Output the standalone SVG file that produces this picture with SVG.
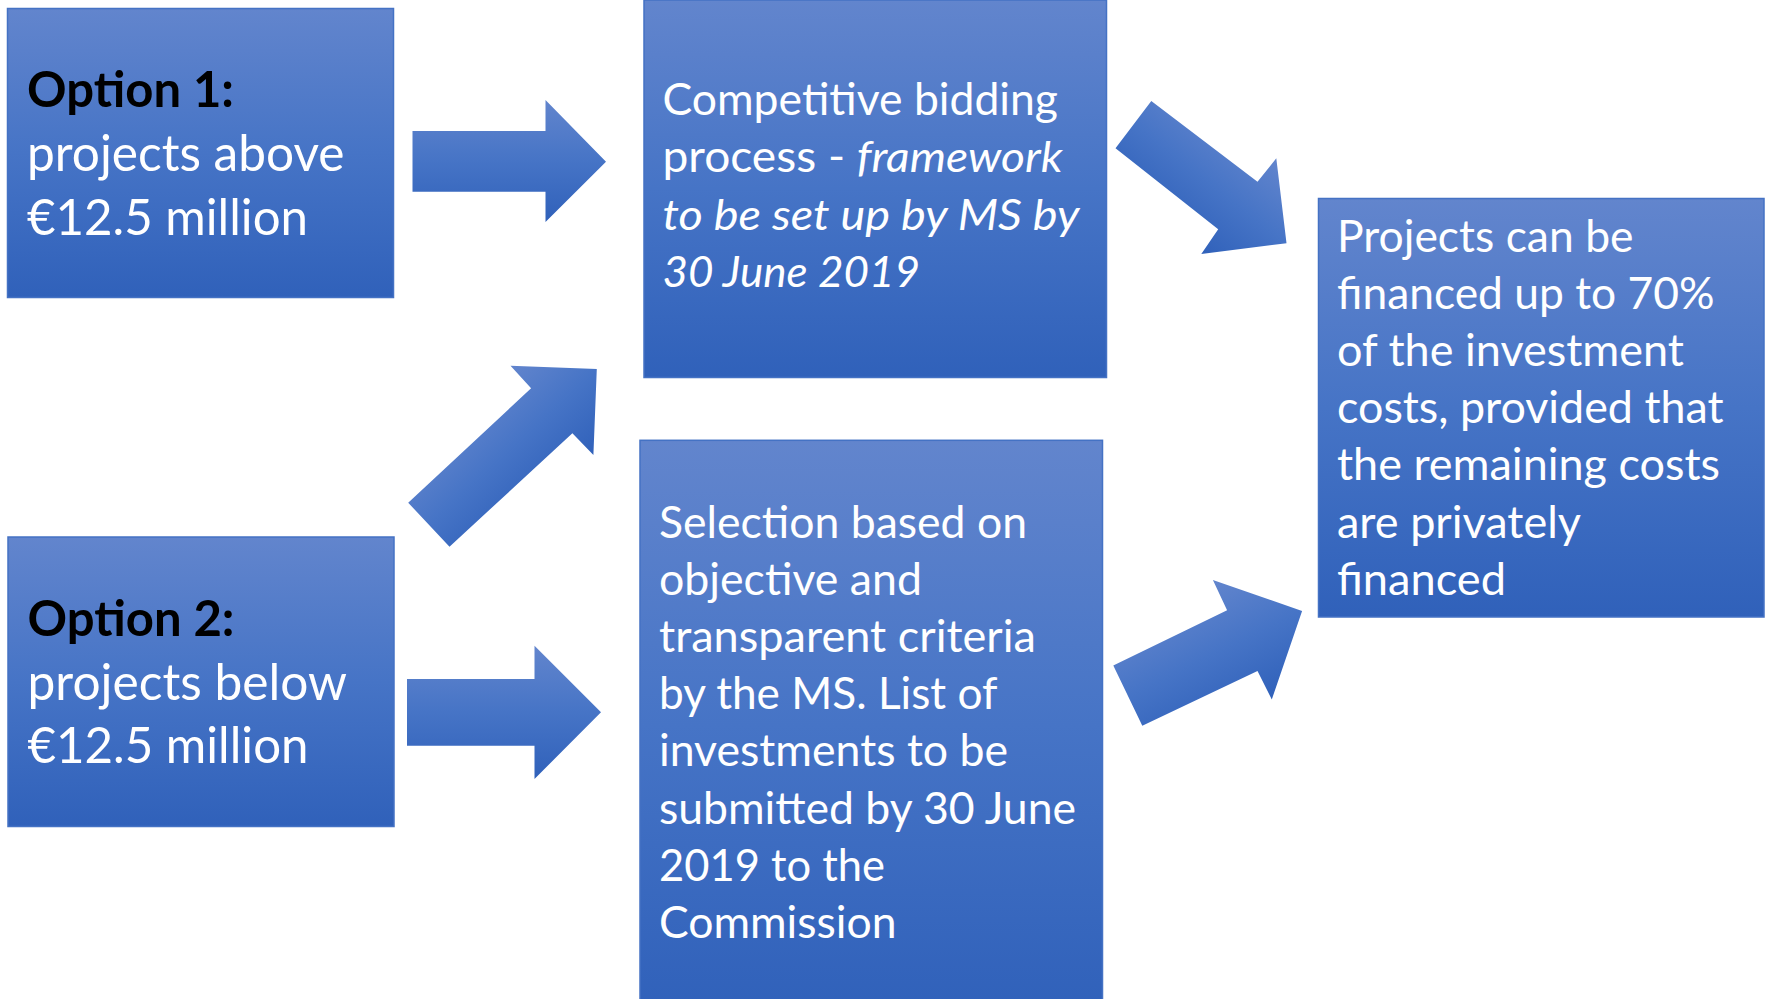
<svg xmlns="http://www.w3.org/2000/svg" xmlns:xlink="http://www.w3.org/1999/xlink" width="1766" height="999" viewBox="0 0 1766 999">
  <defs>
    <linearGradient id="boxGrad" x1="0" y1="0" x2="0" y2="1">
      <stop offset="0" stop-color="#6285CD"/>
      <stop offset="0.5" stop-color="#4674C6"/>
      <stop offset="1" stop-color="#3061BA"/>
    </linearGradient>
    <linearGradient id="g1" href="#boxGrad" gradientUnits="userSpaceOnUse" x1="0" y1="100" x2="0" y2="222"/>
    <linearGradient id="g2" href="#boxGrad" gradientUnits="userSpaceOnUse" x1="0" y1="646" x2="0" y2="779"/>
    <linearGradient id="g3" href="#boxGrad" gradientUnits="userSpaceOnUse" x1="510.5" y1="365.7" x2="593.4" y2="455"/>
    <linearGradient id="g4" href="#boxGrad" gradientUnits="userSpaceOnUse" x1="1276.3" y1="158.3" x2="1201.3" y2="254"/>
    <linearGradient id="g5" href="#boxGrad" gradientUnits="userSpaceOnUse" x1="1212.9" y1="579.9" x2="1271.8" y2="699.5"/>
  </defs>
  <style>
    .box { fill: url(#boxGrad); stroke: #4472C4; stroke-width: 1.5; }
    .t { font-family: Lato, "Open Sans", "Liberation Sans", sans-serif; fill: #FFFFFF; }
    .big { font-size: 49.5px; }
    .mid { font-size: 43.5px; }
    .opt { font-weight: bold; fill: #000000; }
    .it { font-style: italic; }
  </style>
  <rect width="1766" height="999" fill="#FFFFFF"/>

  <g id="connectors">
    <polygon id="arrow-opt1-bidding" fill="url(#g1)" points="412.5,131 545.5,131 545.5,100 606,161.7 545.5,222 545.5,191.7 412.5,191.7"/>
    <polygon id="arrow-opt2-selection" fill="url(#g2)" points="407,679 534.5,679 534.5,645.7 601,712.3 534.5,779 534.5,745.7 407,745.7"/>
    <polygon id="arrow-opt2-bidding" fill="url(#g3)" points="408.2,502.7 531.1,388.3 510.5,365.7 596.8,369 593.4,455 572.4,433.3 449.5,546.7"/>
    <polygon id="arrow-bidding-financing" fill="url(#g4)" points="1151.3,101 1257.5,181.7 1276.3,158.3 1286.5,243.3 1201.3,254 1218.2,229.3 1115.5,148.3"/>
    <polygon id="arrow-selection-financing" fill="url(#g5)" points="1113.3,665.6 1227.1,610.2 1212.9,579.9 1302.1,610.9 1271.8,699.5 1257.5,671.1 1142.3,725.8"/>
  </g>

  <g id="node-option1">
    <rect class="box" x="7.5" y="8.5" width="386" height="289"/>
    <text class="t big opt" x="27" y="106.5" textLength="207" lengthAdjust="spacingAndGlyphs">Option 1:</text>
    <text class="t big" x="27" y="171" textLength="317.5" lengthAdjust="spacingAndGlyphs">projects above</text>
    <text class="t big" x="27" y="235" textLength="281" lengthAdjust="spacingAndGlyphs">€12.5 million</text>
  </g>

  <g id="node-option2">
    <rect class="box" x="8" y="537" width="386" height="289.5"/>
    <text class="t big opt" x="27.5" y="636" textLength="207" lengthAdjust="spacingAndGlyphs">Option 2:</text>
    <text class="t big" x="27.5" y="700" textLength="319.5" lengthAdjust="spacingAndGlyphs">projects below</text>
    <text class="t big" x="27.5" y="763.3" textLength="281" lengthAdjust="spacingAndGlyphs">€12.5 million</text>
  </g>

  <g id="node-bidding">
    <rect class="box" x="644" y="0" width="462.5" height="377.5"/>
    <text class="t mid" x="662.5" y="115" textLength="395.5" lengthAdjust="spacingAndGlyphs">Competitive bidding</text>
    <text class="t mid" x="662.5" y="172" textLength="400" lengthAdjust="spacingAndGlyphs">process - <tspan class="it">framework</tspan></text>
    <text class="t mid it" x="662.5" y="229.5" textLength="417" lengthAdjust="spacingAndGlyphs">to be set up by MS by</text>
    <text class="t mid it" x="662.5" y="287" textLength="257.5" lengthAdjust="spacingAndGlyphs">30 June 2019</text>
  </g>

  <g id="node-selection">
    <rect class="box" x="640" y="440.3" width="462.5" height="570"/>
    <text class="t mid" x="659" y="537.5" textLength="368" lengthAdjust="spacingAndGlyphs">Selection based on</text>
    <text class="t mid" x="659" y="594.7" textLength="263" lengthAdjust="spacingAndGlyphs">objective and</text>
    <text class="t mid" x="659" y="651.9" textLength="377" lengthAdjust="spacingAndGlyphs">transparent criteria</text>
    <text class="t mid" x="659" y="709.1" textLength="338.5" lengthAdjust="spacingAndGlyphs">by the MS. List of</text>
    <text class="t mid" x="659" y="766.3" textLength="349" lengthAdjust="spacingAndGlyphs">investments to be</text>
    <text class="t mid" x="659" y="823.5" textLength="417" lengthAdjust="spacingAndGlyphs">submitted by 30 June</text>
    <text class="t mid" x="659" y="880.7" textLength="226" lengthAdjust="spacingAndGlyphs">2019 to the</text>
    <text class="t mid" x="659" y="937.9" textLength="237.5" lengthAdjust="spacingAndGlyphs">Commission</text>
  </g>

  <g id="node-financing">
    <rect class="box" x="1318.5" y="198.5" width="445.5" height="418.5"/>
    <text class="t mid" x="1337" y="251.8" textLength="296.5" lengthAdjust="spacingAndGlyphs">Projects can be</text>
    <text class="t mid" x="1337" y="308.9" textLength="377.5" lengthAdjust="spacingAndGlyphs">financed up to 70%</text>
    <text class="t mid" x="1337" y="366.1" textLength="347" lengthAdjust="spacingAndGlyphs">of the investment</text>
    <text class="t mid" x="1337" y="423.2" textLength="386.5" lengthAdjust="spacingAndGlyphs">costs, provided that</text>
    <text class="t mid" x="1337" y="480.3" textLength="383" lengthAdjust="spacingAndGlyphs">the remaining costs</text>
    <text class="t mid" x="1337" y="537.5" textLength="244" lengthAdjust="spacingAndGlyphs">are privately</text>
    <text class="t mid" x="1337" y="594.6" textLength="169" lengthAdjust="spacingAndGlyphs">financed</text>
  </g>
</svg>
